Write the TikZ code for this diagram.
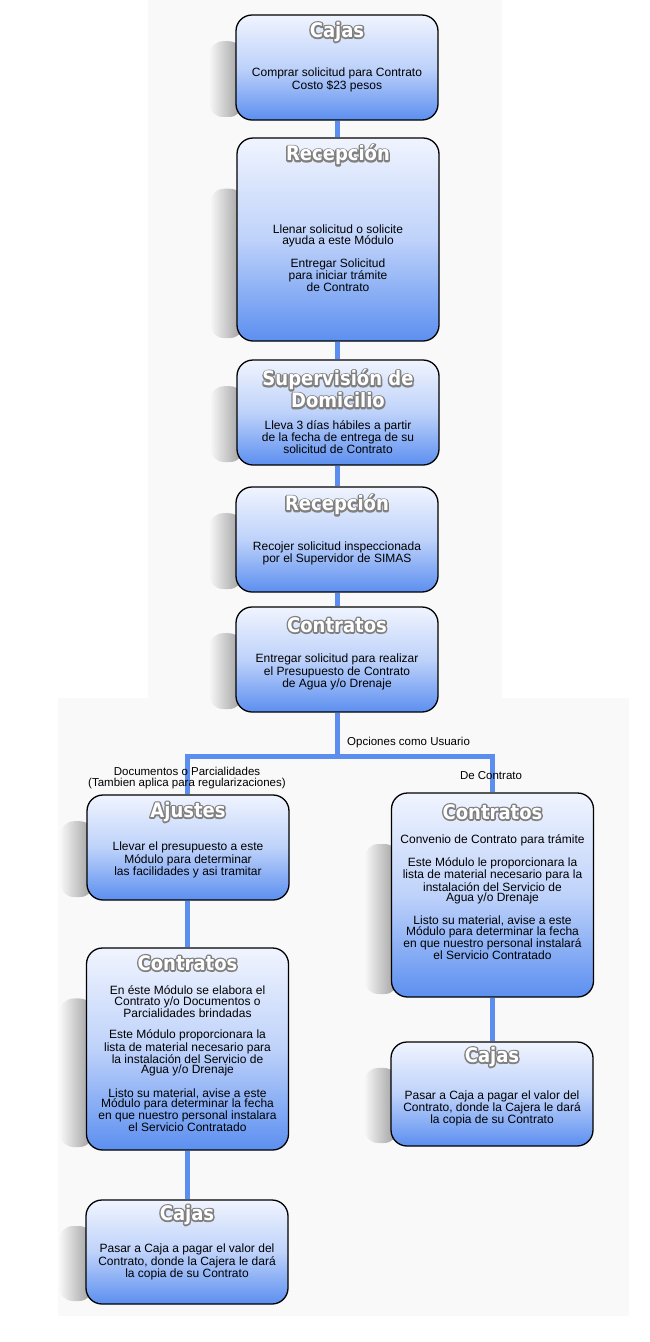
\documentclass[tikz,border=0pt]{standalone}
\usepackage{fontspec}
\setmainfont{Liberation Sans}
\newfontfamily\ttlfont{DejaVu Sans Condensed Bold}
\usetikzlibrary{fadings}
\definecolor{boxtop}{RGB}{240,244,254}
\definecolor{boxmid}{RGB}{190,210,250}
\definecolor{boxbot}{RGB}{92,143,240}
\definecolor{linkblue}{RGB}{92,142,240}
\definecolor{panel}{RGB}{249,249,249}
\tikzfading[name=shfade, left color=transparent!100, right color=transparent!0]
\newbox\embbox
\newcommand\emb[1]{\setbox\embbox\hbox{#1}\leavevmode
  \rlap{\special{pdf:literal direct 0.5 0.5 0.5 RG 3 w 1 j 1 Tr}\copy\embbox\special{pdf:literal direct 0 Tr}}%
  {\color{white}\copy\embbox}}
\tikzset{
  flowbox/.style={draw=black, line width=1.3pt, rounded corners=16pt,
    top color=boxtop, bottom color=boxbot, middle color=boxmid,
    minimum width=202pt, inner sep=0pt},
  conn/.style={draw=linkblue, line width=5pt},
  ttl/.style={font=\ttlfont\fontsize{20}{22}\selectfont, align=center, inner sep=0pt},
  body/.style={font=\fontsize{12}{10.4}\selectfont, align=center, text=black, inner sep=0pt},
  lbl/.style={font=\fontsize{11.5}{11}\selectfont, align=center, text=black, inner sep=0pt},
  shd/.style={fill=black!40, path fading=shfade, rounded corners=14pt}
}
% #1 name, #2 cx, #3 cy, #4 height, #5 title y, #6 title, #7 body y, #8 body
\newcommand\flowboxat[8]{%
  \fill[shd] (#2-128,#3-#4/2+0.25*#4) rectangle (#2-94,#3+#4/2-3);
  \node[flowbox, minimum height=#4] (#1) at (#2,#3) {};
  \node[ttl] (#1-t) at (#2,#5) {#6};
  \node[body] (#1-b) at (#2,#7) {#8};
}
\begin{document}
\begin{tikzpicture}[x=1pt,y=-1pt]
\useasboundingbox (0,0) rectangle (650,1342);
\fill[white] (0,0) rectangle (650,1342);
\fill[panel] (148,0) rectangle (502,698);
\fill[panel] (58,698) rectangle (629,1316);

\coordinate (j) at (337,756);

\flowboxat{cajas1}{337}{67.5}{105}{32}{\emb{Cajas}}{80}{Comprar solicitud para Contrato\\Costo \$23 pesos}
\flowboxat{recep1}{338}{239.5}{203}{155}{\emb{Recepción}}{258.5}{Llenar solicitud o solicite\\ayuda a este Módulo\\[11pt]Entregar Solicitud\\para iniciar trámite\\de Contrato}
\flowboxat{superv}{338}{412.5}{105}{389}{\emb{Supervisión de}\\\emb{Domicilio}}{437}{Lleva 3 días hábiles a partir\\de la fecha de entrega de su\\solicitud de Contrato}
\flowboxat{recep2}{337}{539.5}{105}{505}{\emb{Recepción}}{553}{Recojer solicitud inspeccionada\\por el Supervidor de SIMAS}
\flowboxat{contr1}{337}{659.5}{105}{625}{\emb{Contratos}}{672}{Entregar solicitud para realizar\\el Presupuesto de Contrato\\de Agua y/o Drenaje}
\flowboxat{ajustes}{188}{847.5}{105}{812}{\emb{Ajustes}}{860}{Llevar el presupuesto a este\\Módulo para determinar\\las facilidades y asi tramitar}
\flowboxat{contrL}{187.5}{1049}{202}{963}{\emb{Contratos}}{1059}{En éste Módulo se elabora el\\Contrato y/o Documentos o\\Parcialidades brindadas\\[11pt]Este Módulo proporcionara la\\lista de material necesario para\\la instalación del Servicio de\\Agua y/o Drenaje\\[11pt]Listo su material, avise a este\\Módulo para determinar la fecha\\en que nuestro personal instalara\\el Servicio Contratado}
\flowboxat{cajasL}{187}{1252}{104}{1215}{\emb{Cajas}}{1262}{Pasar a Caja a pagar el valor del\\Contrato, donde la Cajera le dará\\la copia de su Contrato}
\flowboxat{contrR}{492.5}{895}{204}{812}{\emb{Contratos}}{897}{Convenio de Contrato para trámite\\[11pt]Este Módulo le proporcionara la\\lista de material necesario para la\\instalación del Servicio de\\Agua y/o Drenaje\\[11pt]Listo su material, avise a este\\Módulo para determinar la fecha\\en que nuestro personal instalará\\el Servicio Contratado}
\flowboxat{cajasR}{492}{1094}{104}{1057}{\emb{Cajas}}{1108.5}{Pasar a Caja a pagar el valor del\\Contrato, donde la Cajera le dará\\la copia de su Contrato}

\draw[conn] (cajas1.south) -- (cajas1.south |- recep1.north);
\draw[conn] (recep1.south -| cajas1.south) -- (cajas1.south |- superv.north);
\draw[conn] (superv.south -| cajas1.south) -- (cajas1.south |- recep2.north);
\draw[conn] (recep2.south) -- (contr1.north);
\draw[conn] (contr1.south) -- (j);
\draw[conn] ([xshift=2.5pt]j) -| (ajustes.north -| contrL.north);
\draw[conn] ([xshift=-2.5pt]j) -| (contrR.north);
\draw[conn] (ajustes.south -| contrL.north) -- (contrL.north);
\draw[conn] (contrL.south) -- (contrL.south |- cajasL.north);
\draw[conn] (contrR.south -| cajasR.north) -- (cajasR.north);

\node[lbl, anchor=west] (opc) at (347,743) {Opciones como Usuario};
\node[lbl] (docs) at (187,778.5) {Documentos o Parcialidades\\(Tambien aplica para regularizaciones)};
\node[lbl] (dec) at (491,776) {De Contrato};
\end{tikzpicture}
\end{document}
